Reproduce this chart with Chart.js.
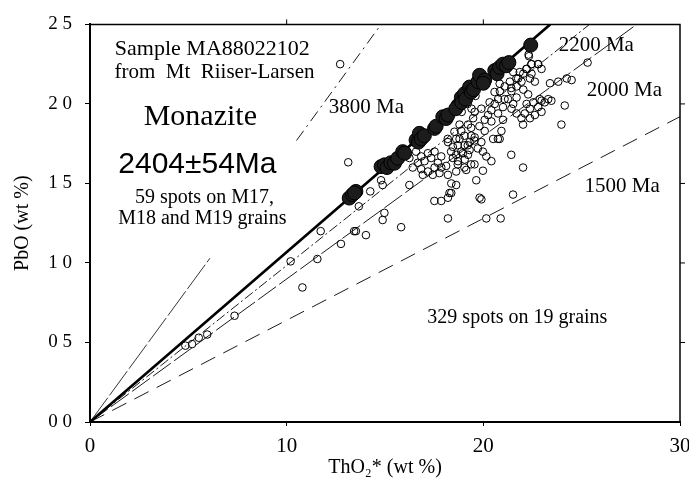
<!DOCTYPE html>
<html><head><meta charset="utf-8">
<script src="https://cdn.jsdelivr.net/npm/chart.js@4/dist/chart.umd.min.js"></script>
<style>html,body{margin:0;padding:0;background:#fff}#wrap{width:689px;height:480px}</style>
</head><body><div id="wrap"><canvas id="c" width="689" height="480"></canvas></div>
<script>
// ---- data ----
const xTicks = [0, 10, 20, 30];
const yTickText = ['0 0', '0 5', '1 0', '1 5', '2 0', '2 5'];

// 59 spots on M17, M18, M19 grains (filled)
const filledX = [13.18,13.35,13.52,13.45,14.8,14.97,15.1,15.3,15.48,15.65,15.9,16.0,16.58,16.7,16.75,16.84,17.0,17.52,17.6,17.94,18.11,18.2,18.71,18.6,18.88,18.9,19.05,19.1,19.3,19.39,19.5,19.73,19.81,20.07,20.0,20.58,20.7,20.83,21.0,21.17,21.3,22.41];
const filledY = [1.408,1.43,1.45,1.44,1.606,1.617,1.60,1.63,1.627,1.658,1.70,1.69,1.773,1.76,1.815,1.78,1.80,1.846,1.86,1.919,1.908,1.93,1.99,1.97,2.04,2.01,2.065,2.03,2.106,2.075,2.09,2.14,2.18,2.15,2.13,2.21,2.19,2.23,2.25,2.24,2.26,2.37];

// 329 spots on 19 grains (open)
const openX = [4.85,5.19,5.53,5.96,7.35,10.2,10.8,11.56,11.73,12.72,12.76,13.13,13.43,13.52,13.67,14.03,14.25,14.8,14.88,14.97,14.88,15.82,16.24,16.24,16.41,
16.58,16.84,17.18,17.52,17.86,16.67,17.01,17.35,17.69,16.84,17.18,17.52,17.86,16.92,17.43,17.77,
18.2,18.37,18.62,18.37,18.2,17.86,17.51,18.2,18.28,19.64,19.81,19.9,20.15,20.88,21.51,22.02,21.42,20.74,
18.2,18.45,18.79,19.05,19.3,19.56,18.62,18.88,19.22,18.71,19.05,19.3,19.9,19.98,20.15,20.41,20.83,18.62,19.13,18.19,18.53,18.79,19.04,19.38,18.7,19.21,19.55,19.72,18.96,19.38,18.45,18.11,18.7,19.04,19.55,19.98,18.36,18.62,18.88,19.22,19.39,
22.32,22.45,22.2,22.79,22.96,22.45,22.03,21.77,21.52,21.35,21.94,22.37,22.62,21.69,21.09,20.84,21.43,22.03,22.28,20.75,21.26,21.69,20.58,21.0,21.52,20.41,20.24,20.75,19.9,19.56,19.48,20.07,19.8,20.41,20.07,20.5,20.92,
22.2,22.37,22.54,22.96,23.3,22.79,22.11,22.37,21.94,21.69,21.43,21.0,22.62,22.96,22.02,
23.39,23.81,24.24,23.46,24.14,23.97,24.49,25.3,20.32,20.57,20.83,21.08,21.42,21.68,21.85,22.19,22.44,22.3,22.78,23.12,22.87,
19.2,19.6,19.4,18.9];
const openY = [0.48,0.49,0.53,0.55,0.668,1.01,0.846,1.025,1.2,2.25,1.12,1.633,1.20,1.20,1.356,1.175,1.45,1.52,1.49,1.315,1.27,1.225,1.49,1.66,1.60,
1.70,1.67,1.69,1.70,1.67,1.63,1.64,1.66,1.63,1.59,1.575,1.60,1.60,1.554,1.554,1.565,
1.554,1.50,1.49,1.44,1.41,1.39,1.39,1.28,1.44,1.52,1.41,1.40,1.28,1.28,1.43,1.60,1.68,1.78,
1.76,1.73,1.78,1.74,1.76,1.79,1.68,1.70,1.68,1.64,1.65,1.71,1.76,1.70,1.67,1.64,1.78,1.575,1.585,1.78,1.825,1.87,1.80,1.85,1.74,1.74,1.77,1.72,1.69,1.62,1.66,1.61,1.62,1.60,1.62,1.58,1.70,1.78,1.83,1.87,1.80,
2.30,2.25,2.22,2.25,2.22,2.19,2.19,2.16,2.20,2.14,2.14,2.16,2.14,2.11,2.11,2.08,2.08,2.09,2.06,2.03,2.03,2.04,2.0,1.98,2.0,1.96,1.93,1.94,1.97,1.95,1.91,1.90,1.86,1.89,1.83,1.78,1.83,
2.0,1.97,2.01,2.02,2.03,1.98,1.94,1.91,1.91,1.94,1.97,1.90,1.93,1.95,1.87,
2.13,2.14,2.16,2.02,1.99,1.87,2.15,2.26,2.01,2.075,2.127,2.03,2.10,2.16,2.20,2.22,2.25,2.31,2.25,2.01,2.03,
2.0,2.05,1.97,1.95];

// reference age lines (end points)
const line2404X = [0, 23.4], line2404Y = [0, 2.5];
const line2200X = [0, 25.4], line2200Y = [0, 2.5];
const line2000X = [0, 27.8], line2000Y = [0, 2.5];
const line1500X = [0, 30],   line1500Y = [0, 1.92];
const line3800aX = [0, 6.1], line3800aY = [0, 1.03];
const line3800bX = [10.5, 14.8], line3800bY = [1.77, 2.5];

// ---- build ----
const pts = (xs, ys) => xs.map((x, i) => ({x, y: ys[i]}));
const SERIF = '"Liberation Serif", "Times New Roman", serif';
const SANS = '"Liberation Sans", Arial, sans-serif';

const lineDs = (xs, ys, w, dash, ord) => ({
  type: 'scatter', data: pts(xs, ys), showLine: true, pointRadius: 0,
  borderColor: '#000', borderWidth: w, borderDash: dash, fill: false, order: ord
});

const notes = [
  {t: 'Sample MA88022102', x: 6.22, y: 2.344, f: '22px ' + SERIF, a: 'center'},
  {t: 'from  Mt  Riiser-Larsen', x: 6.33, y: 2.2, f: '21px ' + SERIF, a: 'center'},
  {t: 'Monazite', x: 5.61, y: 1.919, f: '30px ' + SERIF, a: 'center'},
  {t: '2404±54Ma', x: 5.46, y: 1.619, f: '30px ' + SANS, a: 'center'},
  {t: '59 spots on M17,', x: 5.82, y: 1.4125, f: '20px ' + SERIF, a: 'center'},
  {t: 'M18 and M19 grains', x: 5.71, y: 1.275, f: '20px ' + SERIF, a: 'center'},
  {t: '3800 Ma', x: 12.14, y: 1.975, f: '21px ' + SERIF, a: 'left'},
  {t: '2200 Ma', x: 23.83, y: 2.369, f: '21px ' + SERIF, a: 'left'},
  {t: '2000 Ma', x: 25.26, y: 2.0875, f: '21px ' + SERIF, a: 'left'},
  {t: '1500 Ma', x: 25.15, y: 1.481, f: '21px ' + SERIF, a: 'left'},
  {t: '329 spots on 19 grains', x: 21.73, y: 0.656, f: '20px ' + SERIF, a: 'center'}
];

const framePlugin = {
  id: 'frame',
  afterDatasetsDraw(chart) {
    const {ctx, chartArea: ca, scales} = chart;
    ctx.save();
    ctx.strokeStyle = '#000';
    ctx.lineWidth = 1.5;
    ctx.beginPath();
    ctx.moveTo(ca.left, ca.top); ctx.lineTo(ca.right, ca.top);
    ctx.lineTo(ca.right, ca.bottom);
    ctx.stroke();
    ctx.lineWidth = 1;
    ctx.beginPath();
    [10, 20].forEach(v => { const px = scales.x.getPixelForValue(v); ctx.moveTo(px, ca.top); ctx.lineTo(px, ca.top - 5); });
    [0.5, 1, 1.5, 2].forEach(v => { const py = scales.y.getPixelForValue(v); ctx.moveTo(ca.right, py); ctx.lineTo(ca.right + 5, py); });
    ctx.stroke();
    ctx.fillStyle = '#000';
    ctx.textBaseline = 'middle';
    notes.forEach(n => {
      ctx.font = n.f;
      ctx.textAlign = n.a;
      ctx.fillText(n.t, scales.x.getPixelForValue(n.x), scales.y.getPixelForValue(n.y));
    });
    ctx.restore();
  }
};

new Chart(document.getElementById('c'), {
  type: 'scatter',
  data: {
    datasets: [
      {label: '59 spots', data: pts(filledX, filledY), pointRadius: 7, pointBackgroundColor: '#1c1c1c', pointBorderColor: '#000', pointBorderWidth: 1, order: 1},
      {label: '329 spots', data: pts(openX, openY), pointRadius: 3.8, pointBackgroundColor: 'rgba(255,255,255,0)', pointBorderColor: '#000', pointBorderWidth: 1, order: 2},
      lineDs(line2404X, line2404Y, 2.6, [], 3),
      lineDs(line2200X, line2200Y, 0.9, [10, 3, 2, 3], 4),
      lineDs(line2000X, line2000Y, 0.9, [22, 4], 5),
      lineDs(line1500X, line1500Y, 0.9, [16, 9], 6),
      lineDs(line3800aX, line3800aY, 0.8, [30, 3], 7),
      lineDs(line3800bX, line3800bY, 0.9, [12, 5, 2, 5], 8)
    ]
  },
  options: {
    responsive: false, animation: false, devicePixelRatio: 1,
    layout: {padding: {left: 0, top: 22, right: 9, bottom: 0}},
    plugins: {legend: {display: false}, tooltip: {enabled: false}},
    scales: {
      x: {
        type: 'linear', min: 0, max: 30,
        afterBuildTicks(s) { s.ticks = xTicks.map(v => ({value: v})); },
        ticks: {color: '#000', font: {family: SERIF, size: 21}, padding: 8, maxRotation: 0},
        grid: {drawOnChartArea: false, drawTicks: true, tickLength: 4, color: '#000'},
        border: {display: true, color: '#000', width: 2},
        title: {display: true, text: 'ThO₂* (wt %)', color: '#000', font: {family: SERIF, size: 20}, padding: {top: 0, bottom: 0}},
        afterFit(s) { s.height = 58; s.paddingLeft = 0; s.paddingRight = 0; }
      },
      y: {
        type: 'linear', min: 0, max: 2.5,
        ticks: {stepSize: 0.5, color: '#000', font: {family: SERIF, size: 19}, padding: 13, callback: (v, i) => yTickText[i]},
        grid: {drawOnChartArea: false, drawTicks: true, tickLength: 5, color: '#000'},
        border: {display: true, color: '#000', width: 2},
        title: {display: true, text: 'PbO (wt %)', color: '#000', font: {family: SERIF, size: 20}, padding: {top: 11, bottom: 0}},
        afterFit(s) { s.width = 90; }
      }
    }
  },
  plugins: [framePlugin]
});
</script></body></html>
